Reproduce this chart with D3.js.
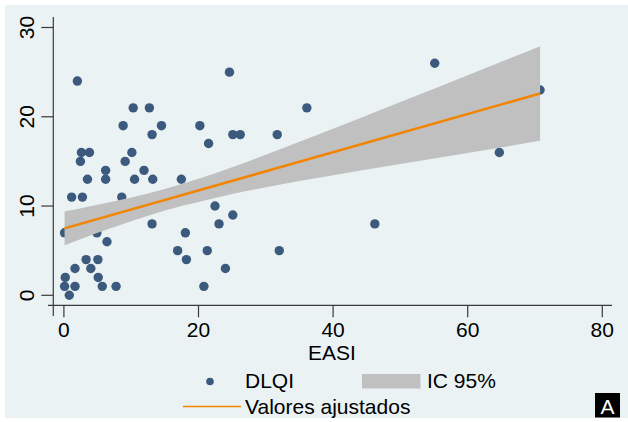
<!DOCTYPE html>
<html>
<head>
<meta charset="utf-8">
<script src="https://cdn.jsdelivr.net/npm/d3@7"></script>
<style>
    body { margin: 0; background: #ffffff; }
    svg { display: block; font-family: "Liberation Sans", Arial, sans-serif; }
    .axisLine { stroke: #3a3a3a; stroke-width: 1.2; fill: none; }
    .tickText { font-size: 21px; fill: #000; }
</style>
</head>
<body>
<script>
//data
var easi = [0.1, 0.2, 0.1, 0.8, 1.65, 1.65, 2.0, 1.15, 2.6, 2.45, 3.8, 3.5, 2.75, 3.3, 4.0, 4.9, 5.05, 5.1, 5.7,
    6.2, 6.2, 6.4, 7.75, 8.6, 8.8, 9.1, 10.1, 10.3, 10.5, 11.9, 12.7, 13.1, 13.2, 13.1, 14.5, 16.9, 17.45, 18.05,
    18.2, 20.2, 20.8, 21.3, 21.5, 22.45, 23.05, 24.0, 24.6, 25.1, 25.1, 26.2, 31.7, 32.0, 36.1, 55.1, 70.75, 64.7, 46.2];
var dlqi = [7, 2, 1, 0, 3, 1, 24, 11, 16, 15, 16, 13, 11, 4, 3, 7, 4, 2, 1,
    14, 13, 6, 1, 11, 19, 15, 16, 21, 13, 14, 21, 18, 13, 8, 19, 5, 13, 7,
    4, 19, 1, 5, 17, 10, 8, 3, 25, 9, 18, 18, 18, 5, 21, 26, 23, 16, 8];

//fitted line (valores ajustados) and 95% band
var fitX = [0.1, 70.75];
var fitY = [7.5, 22.6];
var ciX = [0.1, 5, 10, 15, 20, 25, 30, 40, 50, 60, 70.75];
var ciUpper = [9.4, 10.15, 10.95, 11.9, 13.05, 14.35, 15.75, 18.65, 21.65, 24.65, 27.9];
var ciLower = [5.6, 7.0, 8.3, 9.5, 10.45, 11.35, 12.1, 13.45, 14.7, 15.95, 17.3];

var xTicks = [0, 20, 40, 60, 80];
var yTicks = [0, 10, 20, 30];
var xTitle = "EASI";
var legendLabels = ["DLQI", "IC 95%", "Valores ajustados"];
var panelLabel = "A";

window.onload = setChart();

function setChart(){

    var width = 628,
        height = 422;

    var svg = d3.select("body")
        .append("svg")
        .attr("width", width)
        .attr("height", height);

    //graph region background
    svg.append("rect")
        .attr("x", 5)
        .attr("y", 5)
        .attr("width", width - 5)
        .attr("height", 413)
        .attr("fill", "#eaf2f3");

    var x = d3.scaleLinear()
        .domain([0, 80])
        .range([63.9, 602.3]);

    var y = d3.scaleLinear()
        .domain([0, 30])
        .range([295.3, 27.5]);

    //scatter first, band and line drawn over it
    svg.selectAll(".dot")
        .data(easi)
        .enter()
        .append("circle")
        .attr("class", "dot")
        .attr("cx", function(d){ return x(d); })
        .attr("cy", function(d, i){ return y(dlqi[i]); })
        .attr("r", 4.7)
        .attr("fill", "#3c5a7e");

    var band = d3.area()
        .x(function(d){ return x(d); })
        .y0(function(d, i){ return y(ciLower[i]); })
        .y1(function(d, i){ return y(ciUpper[i]); })
        .curve(d3.curveMonotoneX);

    svg.append("path")
        .datum(ciX)
        .attr("d", band)
        .attr("fill", "#c0c0c0");

    var fitLine = d3.line()
        .x(function(d){ return x(d); })
        .y(function(d, i){ return y(fitY[i]); });

    svg.append("path")
        .datum(fitX)
        .attr("d", fitLine)
        .attr("fill", "none")
        .attr("stroke", "#f28400")
        .attr("stroke-width", 2.5);

    //axes
    var axisY = 305.3,
        axisX = 53.3;

    svg.append("line")
        .attr("class", "axisLine")
        .attr("x1", 48).attr("x2", 612)
        .attr("y1", axisY).attr("y2", axisY);

    svg.append("line")
        .attr("class", "axisLine")
        .attr("x1", axisX).attr("x2", axisX)
        .attr("y1", 17).attr("y2", 316);

    svg.selectAll(".xTick")
        .data(xTicks)
        .enter()
        .append("line")
        .attr("class", "axisLine")
        .attr("x1", function(d){ return x(d); })
        .attr("x2", function(d){ return x(d); })
        .attr("y1", axisY)
        .attr("y2", axisY + 12);

    svg.selectAll(".xLabel")
        .data(xTicks)
        .enter()
        .append("text")
        .attr("class", "tickText")
        .attr("x", function(d){ return x(d); })
        .attr("y", 337)
        .attr("text-anchor", "middle")
        .text(function(d){ return d; });

    svg.selectAll(".yTick")
        .data(yTicks)
        .enter()
        .append("line")
        .attr("class", "axisLine")
        .attr("x1", axisX - 12)
        .attr("x2", axisX)
        .attr("y1", function(d){ return y(d); })
        .attr("y2", function(d){ return y(d); });

    svg.selectAll(".yLabel")
        .data(yTicks)
        .enter()
        .append("text")
        .attr("class", "tickText")
        .attr("text-anchor", "middle")
        .attr("transform", function(d){ return "translate(34," + y(d) + ") rotate(-90)"; })
        .text(function(d){ return d; });

    svg.append("text")
        .attr("class", "tickText")
        .attr("x", 332)
        .attr("y", 360)
        .attr("text-anchor", "middle")
        .text(xTitle);

    setLegend(svg);
};

function setLegend(svg){
    //row 1: marker + box
    svg.append("circle")
        .attr("cx", 210)
        .attr("cy", 381.5)
        .attr("r", 3.8)
        .attr("fill", "#3c5a7e");

    svg.append("text")
        .attr("class", "tickText")
        .attr("x", 245)
        .attr("y", 388)
        .text(legendLabels[0]);

    svg.append("rect")
        .attr("x", 362)
        .attr("y", 374)
        .attr("width", 58.5)
        .attr("height", 14.5)
        .attr("fill", "#c0c0c0");

    svg.append("text")
        .attr("class", "tickText")
        .attr("x", 427)
        .attr("y", 388)
        .text(legendLabels[1]);

    //row 2: fitted line
    svg.append("line")
        .attr("x1", 183)
        .attr("x2", 241)
        .attr("y1", 406.5)
        .attr("y2", 406.5)
        .attr("stroke", "#f28400")
        .attr("stroke-width", 1.6);

    svg.append("text")
        .attr("class", "tickText")
        .attr("x", 245)
        .attr("y", 414)
        .text(legendLabels[2]);

    //panel letter
    svg.append("rect")
        .attr("x", 595)
        .attr("y", 393)
        .attr("width", 25)
        .attr("height", 24.5)
        .attr("fill", "#000");

    svg.append("text")
        .attr("x", 607.5)
        .attr("y", 414)
        .attr("text-anchor", "middle")
        .attr("font-size", "21px")
        .attr("fill", "#fff")
        .text(panelLabel);
};
</script>
</body>
</html>
